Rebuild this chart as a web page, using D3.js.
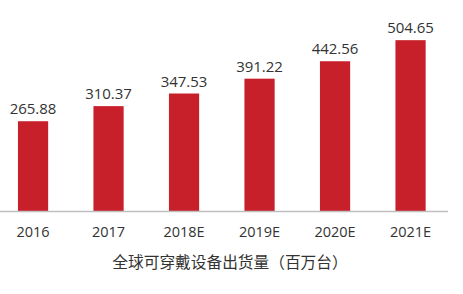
<!DOCTYPE html>
<html>
<head>
<meta charset="utf-8">
<script src="https://cdn.jsdelivr.net/npm/d3@7"></script>
<style>
  body { margin: 0; background: #fff; }
  svg { display: block; }
</style>
</head>
<body>
<svg id="chart" width="463" height="294"></svg>
<script>
const years = ['2016', '2017', '2018E', '2019E', '2020E', '2021E'];
const shipments = [265.88, 310.37, 347.53, 391.22, 442.56, 504.65];
const title = '全球可穿戴设备出货量（百万台）';

const config = {
  'fill': '#c8202a',
  'text': '#333333',
  'axis': '#bfbfbf',
  'font': '"Open Sans", "Noto Sans CJK SC", sans-serif'
};

const svg = d3.select('#chart');

const x = d3.scaleBand()
  .domain(years)
  .range([-4.7, 448.3])
  .paddingInner(0.6)
  .paddingOuter(0.3);

const y = d3.scaleLinear()
  .domain([0, 600])
  .range([211.5, 211.5 - 600 * 0.3395]);

// bars
svg.append('g')
  .selectAll('rect')
  .data(shipments)
  .enter()
  .append('rect')
  .attr('x', (d, i) => x(years[i]))
  .attr('y', d => y(d))
  .attr('width', x.bandwidth())
  .attr('height', d => y(0) - y(d))
  .attr('fill', config['fill']);

// value labels
svg.append('g')
  .selectAll('text')
  .data(shipments)
  .enter()
  .append('text')
  .attr('x', (d, i) => x(years[i]) + x.bandwidth() / 2)
  .attr('y', d => y(d) - 7)
  .attr('text-anchor', 'middle')
  .style('font-family', config['font'])
  .style('font-size', '15px')
  .attr('fill', config['text'])
  .text(d => d.toFixed(2));

// x axis
const axis = svg.append('g')
  .attr('transform', `translate(0, ${y(0)})`)
  .call(d3.axisBottom(x).tickSize(0).tickPadding(15.5));

axis.select('.domain')
  .attr('d', 'M0,0H448')
  .attr('stroke', config['axis'])
  .attr('stroke-width', 1.5);

axis.selectAll('text')
  .style('font-family', config['font'])
  .style('font-size', '14.5px')
  .attr('fill', config['text']);

// title
svg.append('text')
  .attr('x', 230)
  .attr('y', 268)
  .attr('text-anchor', 'middle')
  .style('font-family', '"Noto Sans CJK SC", sans-serif')
  .style('font-size', '15.7px')
  .attr('fill', config['text'])
  .text(title);
</script>
</body>
</html>
